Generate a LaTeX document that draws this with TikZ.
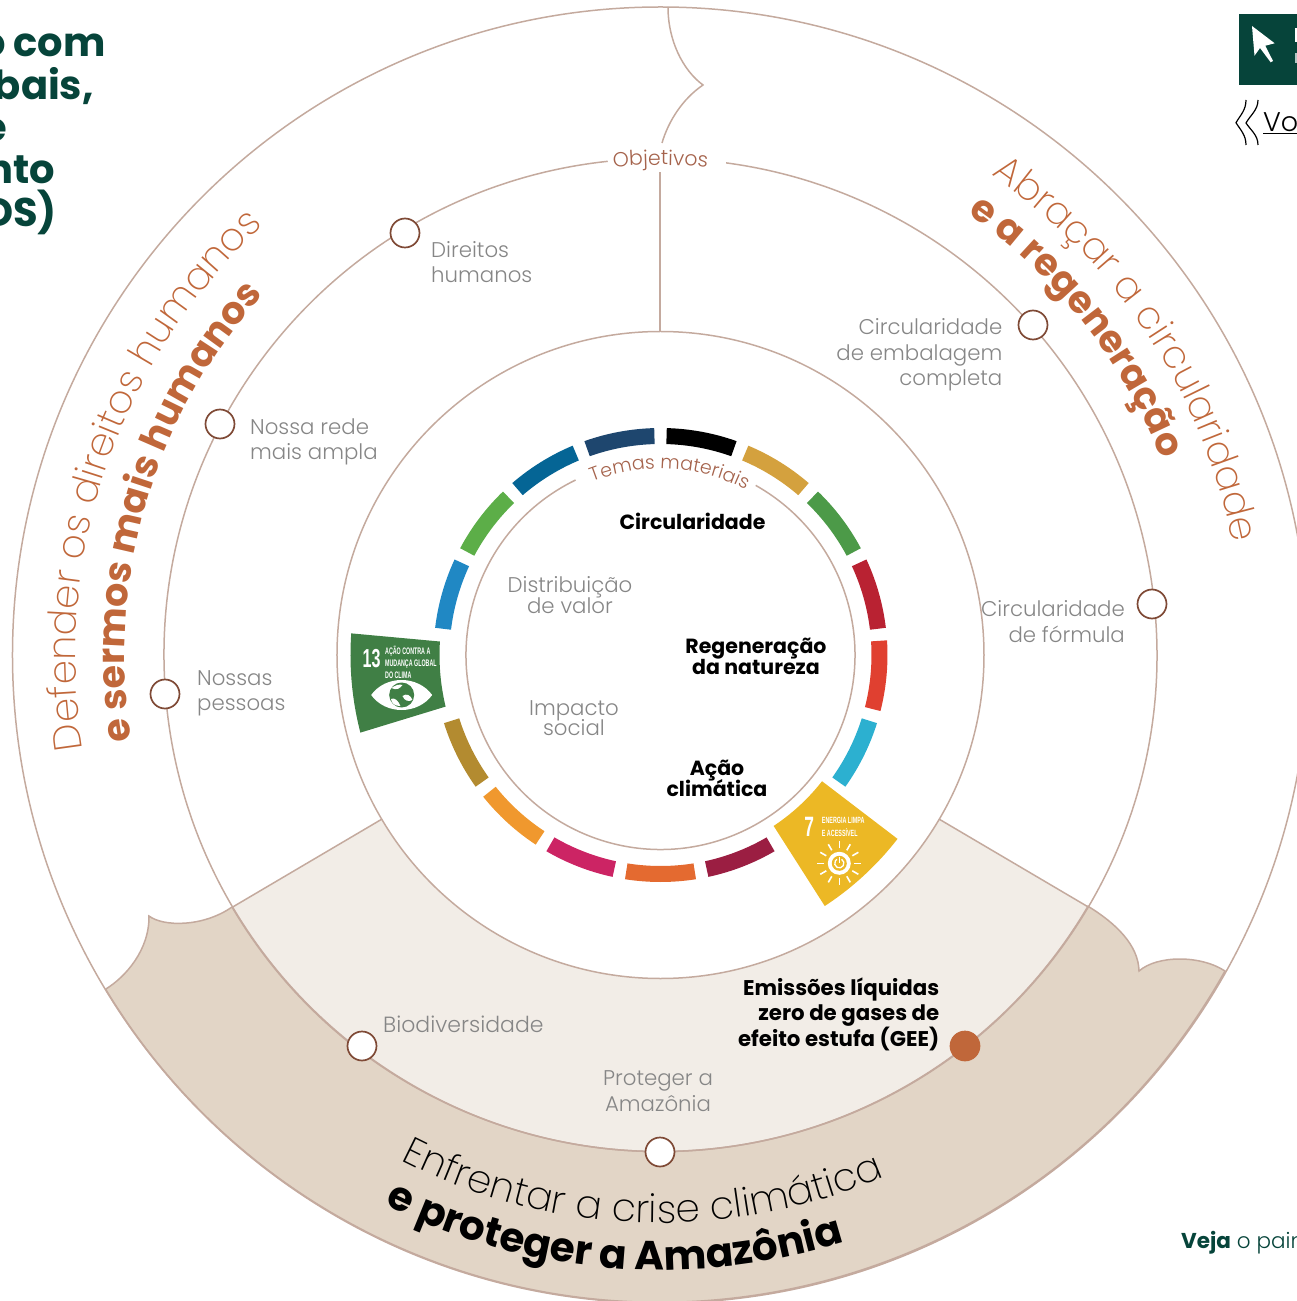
\documentclass[tikz,border=0pt]{standalone}
\usepackage{fontspec}
\setmainfont{Poppins}[UprightFont=* Light, BoldFont=* Bold]
\newfontfamily\thinfont{Poppins ExtraLight}
\newfontfamily\sdgfont{Liberation Sans}[BoldFont=* Bold]
\usetikzlibrary{positioning,decorations.text}
\definecolor{ringcol}{HTML}{C4AA9E}
\definecolor{paleband}{HTML}{F2EDE7}
\definecolor{darkband}{HTML}{E2D5C6}
\definecolor{rust}{HTML}{C0673A}
\definecolor{markercol}{HTML}{7F4A36}
\definecolor{themecol}{HTML}{A5634C}
\definecolor{labelgrey}{HTML}{868686}
\definecolor{pine}{HTML}{06443A}
\definecolor{sdgseven}{HTML}{ECB825}
\definecolor{sdgthirteen}{HTML}{407F45}
\newcommand{\sizedfont}[1]{\fontsize{#1}{#1}\selectfont\lineskiplimit=-30pt\relax}
\begin{document}
\begin{tikzpicture}[x=1pt, y=1pt,
    ringline/.style={draw=ringcol, line width=1.5pt},
    marker/.style={circle, draw=markercol, fill=white, line width=1.7pt, minimum size=29pt, inner sep=0pt},
    greylabel/.style={text=labelgrey, font=\sizedfont{21.3}, inner sep=0pt},
    boldlabel/.style={text=black, font=\bfseries\sizedfont{20.5}, inner sep=0pt},
    titleline/.style={text=pine, font=\bfseries\sizedfont{40}, anchor=base east, inner sep=0pt},
    sdgtext/.style={text=white, font=\sdgfont\bfseries, inner sep=0pt}]
\useasboundingbox (-660.5,-646) rectangle (636.5,655);
\clip (-660.5,-646) rectangle (636.5,655);

% Bands
\fill[paleband] (210.5:323.5) arc[start angle=210.5, end angle=329.5, radius=323.5]
    -- (329.5:496.5) arc[start angle=329.5, end angle=210.5, radius=496.5] -- cycle;
\path[fill=darkband, ringline] (-428.5,-252) arc[start angle=210.5, end angle=329.6, radius=496.5]
    .. controls (455,-268) and (478,-290) .. (478.5,-316)
    .. controls (497,-300) and (540,-300) .. (564.5,-316)
    arc[start angle=-29.24, end angle=-148.9, radius=647.5]
    .. controls (-535,-322) and (-511,-295) .. (-511.5,-261)
    .. controls (-497,-272) and (-457,-272) .. (-428.5,-252);

% Rings
\draw[ringline] (0,0) circle[radius=648];
\draw[ringline] (0,0) circle[radius=323.5];
\draw[ringline] (96.1:496.5) arc[start angle=96.1, end angle=442.4, radius=496.5];
\draw[ringline] (115.9:194.5) arc[start angle=115.9, end angle=420.7, radius=194.5];
\draw[ringline] (210.5:323.5) -- (210.5:496.5);
\draw[ringline] (329.5:323.5) -- (329.5:496.5);
\draw[ringline] (-0.5,324) -- (-0.5,483);
\draw[ringline] (7.5,648) .. controls (7.5,615) and (22,585) .. (42.5,570)
    .. controls (22,556) and (8,534) .. (1.5,512);

% Goal segments
\foreach \k/\sdgcol in {0/E46A30, 1/9B1E42, 3/2CB0D0, 4/E04030, 5/B92232, 6/4C9A48, 7/D4A13E, 8/000000,
    9/1E466E, 10/056595, 11/5CAE48, 12/2088C4, 14/B38B30, 15/F0982E, 16/CC2464} {
  \pgfmathsetmacro{\a}{-90+\k*360/17}
  \definecolor{segcol}{HTML}{\sdgcol}
  \fill[segcol] ({\a-9}:227) arc[start angle=\a-9, end angle=\a+9, radius=227]
      -- ({\a+9}:211) arc[start angle=\a+9, end angle=\a-9, radius=211] -- cycle;
}

% Goal 13
\fill[sdgthirteen] (176:310) arc[start angle=176, end angle=194.5, radius=310]
    -- (193.5:221) arc[start angle=193.5, end angle=176.5, radius=221] -- cycle;
\node[sdgtext] (thirteen) at (-288.8,-3.3) {\scalebox{.62}[1]{\sizedfont{26}13}};
\node[sdgtext, anchor=west, align=left] (thirteentext) at (-275.5,-7.7)
    {\scalebox{.56}[1]{\sizedfont{9.5}AÇÃO CONTRA A}\\\scalebox{.56}[1]{\sizedfont{9.5}MUDANÇA GLOBAL}\\\scalebox{.56}[1]{\sizedfont{9.5}DO CLIMA}};
\fill[white] (-289.3,-40) .. controls (-275,-20) and (-243,-20) .. (-228.3,-40)
    .. controls (-243,-60) and (-275,-60) .. (-289.3,-40) -- cycle;
\fill[sdgthirteen] (-258.8,-40) circle[radius=12.5];
\fill[white] (-269,-33) .. controls (-265,-30) and (-261,-29) .. (-258,-30)
    .. controls (-260,-33) and (-264,-36) .. (-269,-33) -- cycle;
\fill[white] (-269.5,-44) .. controls (-266,-42) and (-262,-46) .. (-260,-51)
    .. controls (-265,-51) and (-269,-49) .. (-269.5,-44) -- cycle;
\fill[white] (-258,-41) .. controls (-254,-38) and (-250,-40) .. (-248,-45)
    .. controls (-252,-47) and (-256,-46) .. (-258,-41) -- cycle;

% Goal 7
\fill[sdgseven] (-38:205) arc[start angle=-38, end angle=-56.5, radius=205]
    -- (-56.8:300) arc[start angle=-56.8, end angle=-37.8, radius=300] -- cycle;
\node[sdgtext] (seven) at (148.8,-171.7) {\scalebox{.62}[1]{\sizedfont{28}7}};
\node[sdgtext, anchor=west, align=left] (seventext) at (161.2,-171.7)
    {\scalebox{.6}[1]{\sizedfont{9}ENERGIA LIMPA}\\[1pt]\scalebox{.6}[1]{\sizedfont{9}E ACESSÍVEL}};
\coordinate (sun) at (178.8,-208.3);
\foreach \a in {0,30,...,330}
  \draw[white, line width=1.6pt] ([shift={(\a:15)}]sun) -- ([shift={(\a:22)}]sun);
\fill[white] (sun) circle[radius=11.5];
\fill[sdgseven] (sun) circle[radius=7.5];
\draw[white, line width=1.3pt] ([shift={(60:4.6)}]sun) arc[start angle=60, end angle=-240, radius=4.6];
\draw[white, line width=1.3pt] ([shift={(90:6)}]sun) -- (sun);

% Ring labels
\path[decorate, decoration={text along path, text align=center,
    text={|\sizedfont{20.5}\color{themecol}|Objetivos}}]
    (97:490) arc[start angle=97, end angle=83, radius=490];
\path[decorate, decoration={text along path, text align=center,
    text={|\sizedfont{19}\color{themecol}|Temas materiais}}]
    (117:186) arc[start angle=117, end angle=57, radius=186];
\path[decorate, decoration={text along path, text align=center,
    text={|\thinfont\sizedfont{39}\color{rust}|Defender os direitos humanos}}]
    (190:585) arc[start angle=190, end angle=132, radius=585];
\path[decorate, decoration={text along path, text align=center,
    text={|\sizedfont{38}\bfseries\color{rust}|e sermos mais humanos}}]
    (191:536) arc[start angle=191, end angle=136, radius=536];
\path[decorate, decoration={text along path, text align=center,
    text={|\thinfont\sizedfont{38.5}\color{rust}|Abraçar a circularidade}}]
    (56:583) arc[start angle=56, end angle=10.5, radius=583];
\path[decorate, decoration={text along path, text align=center,
    text={|\sizedfont{38}\bfseries\color{rust}|e a regeneração}}]
    (56.5:538) arc[start angle=56.5, end angle=20, radius=538];
\path[decorate, decoration={text along path, text align=center,
    text={|\thinfont\sizedfont{39}\color{black}|Enfrentar a crise climática}}]
    (241.5:568) arc[start angle=241.5, end angle=294.5, radius=568];
\path[decorate, decoration={text along path, text align=center,
    text={|\sizedfont{40.5}\bfseries\color{black}|e proteger a Amazônia}}]
    (242.4:615) arc[start angle=242.4, end angle=288.4, radius=615];

% Markers
\node[marker] (pessoas) at (-495.5,-39) {};
\node[marker] (rede) at (-440.5,231) {};
\node[marker] (direitos) at (-255.5,422) {};
\node[marker] (embalagem) at (372.5,330) {};
\node[marker] (formula) at (491.5,51) {};
\node[marker] (biodiversidade) at (-298.5,-391) {};
\node[marker] (amazonia) at (-0.5,-497) {};
\node[marker, fill=rust, draw=rust] (emissoes) at (304.5,-391) {};

% Labels
\node[greylabel, anchor=west, align=left] (direitoslabel) at (-229.5,393) {Direitos\\[4.2pt]humanos};
\node[greylabel, anchor=west, align=left] (redelabel) at (-410.5,213) {Nossa rede\\[4.2pt]mais ampla};
\node[greylabel, anchor=west, align=left] (pessoaslabel) at (-463.5,-38.5) {Nossas\\[4.2pt]pessoas};
\node[greylabel, anchor=east, align=right] (embalagemlabel) at (342,300) {Circularidade\\[4.2pt]de embalagem\\[4.2pt]completa};
\node[greylabel, anchor=east, align=right] (formulalabel) at (464.5,33.5) {Circularidade\\[4.2pt]de fórmula};
\node[greylabel, font=\sizedfont{22}, anchor=west] (biolabel) at (-277.5,-369) {Biodiversidade};
\node[greylabel, align=center] (amazonialabel) at (-2.5,-436) {Proteger a\\[4.2pt]Amazônia};
\node[boldlabel, font=\bfseries\sizedfont{21.3}, anchor=east, align=right] (emissoeslabel) at (279,-359) {Emissões líquidas\\[4.2pt]zero de gases de\\[4.2pt]efeito estufa (GEE)};

% Themes
\node[boldlabel] (circularidade) at (32,134) {Circularidade};
\node[boldlabel, align=center] (regeneracao) at (95.5,-1.5) {Regeneração\\da natureza};
\node[boldlabel, align=center] (acao) at (56.5,-123.5) {Ação\\climática};
\node[greylabel, align=center] (distribuicao) at (-90.5,59.5) {Distribuição\\[-.3pt]de valor};
\node[greylabel, align=center] (impacto) at (-86.5,-63) {Impacto\\[-1.3pt]social};

% Page bits
\node[titleline] (titlea) at (-554.5,598) {\spaceskip=8pt o com};
\node[titleline] (titleb) at (-566.5,555) {bais,};
\node[titleline] (titlec) at (-653.5,513) {e};
\node[titleline] (titled) at (-605.5,471) {nto};
\node[titleline] (titlee) at (-603.5,428) {DS)};
\fill[pine] (578.5,641) rectangle (636.5,570);
\fill[white] (591.5,629) -- (594,599.3) -- (599.5,607) -- (610.2,592.7) -- (612.5,594) -- (604.8,609.3) -- (614.2,611.7) -- cycle;
\fill[white] (634,627) rectangle (636.5,613);
\fill[white!70!pine] (634,602) rectangle (636.5,592);
\draw[black, line width=1.2pt] (585.5,555) .. controls (585.5,545) and (580,540) .. (575.5,532.3)
    .. controls (580,525) and (585.5,520) .. (585.5,510);
\draw[black, line width=1.2pt] (597.5,555) .. controls (597.5,545) and (590,540) .. (585.5,532)
    .. controls (590,525) and (597.5,520) .. (597.5,510);
\node[anchor=base west, inner sep=0pt, font=\sizedfont{27}] (vo) at (602.5,523) {\underline{Vo}};
\node[anchor=base west, inner sep=0pt, text=pine, font=\sizedfont{21.5}] (veja) at (520.5,-593) {\textbf{Veja} o pain};

\end{tikzpicture}
\end{document}
